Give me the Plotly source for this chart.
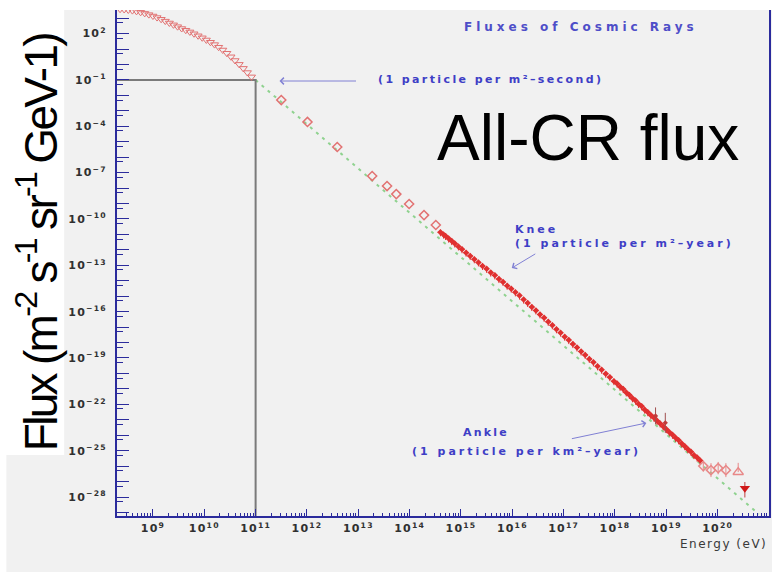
import plotly.graph_objects as go

# ---------------- data (log10 of energy in eV, log10 of flux) ----------------
# low-energy direct measurements (open triangles)
tri_logE = [8.36, 8.44, 8.52, 8.60, 8.68, 8.76, 8.84, 8.92, 9.00, 9.08, 9.16,
            9.24, 9.32, 9.40, 9.48, 9.56, 9.64, 9.72, 9.80, 9.88, 9.96, 10.04,
            10.12, 10.20, 10.28, 10.36, 10.44, 10.52, 10.60, 10.68, 10.76, 10.84, 10.92]
tri_logF = [3.58, 3.56, 3.53, 3.49, 3.44, 3.38, 3.31, 3.23, 3.14, 3.04, 2.93,
            2.81, 2.69, 2.57, 2.45, 2.33, 2.22, 2.11, 1.99, 1.86, 1.73, 1.59,
            1.44, 1.29, 1.12, 0.94, 0.73, 0.50, 0.26, 0.01, -0.25, -0.52, -0.80]

# balloon / satellite points (open diamonds)
dia_logE = [11.50, 12.01, 12.59, 13.27, 13.56, 13.74, 13.99, 14.28, 14.51]
dia_logF = [-2.30, -3.72, -5.34, -7.22, -7.87, -8.39, -9.03, -9.75, -10.39]

# air-shower measurements (small filled markers)
air_logE = [14.60, 14.66, 14.70, 14.76, 14.82, 14.88, 14.95, 15.02, 15.10, 15.18,
            15.26, 15.34, 15.42, 15.50, 15.58, 15.66, 15.74, 15.82, 15.90, 15.98,
            16.06, 16.14, 16.22, 16.30, 16.38, 16.46, 16.54, 16.62, 16.70, 16.78,
            16.86, 16.94, 17.02, 17.10, 17.18, 17.26, 17.34, 17.42, 17.50, 17.58,
            17.66, 17.74, 17.82, 17.90, 17.98, 18.04, 18.10, 18.16, 18.22, 18.28,
            18.34, 18.40, 18.46, 18.52, 18.58, 18.64, 18.70, 18.76, 18.82, 18.88,
            18.94, 19.00, 19.06, 19.12, 19.18, 19.24, 19.30, 19.36, 19.42, 19.48,
            19.54, 19.60, 19.66]
air_logF = [-10.86, -11.01, -11.10, -11.27, -11.43, -11.59, -11.78, -11.96, -12.18, -12.39,
            -12.61, -12.81, -13.04, -13.23, -13.47, -13.65, -13.89, -14.08, -14.32, -14.51,
            -14.75, -14.96, -15.22, -15.44, -15.70, -15.92, -16.18, -16.40, -16.66, -16.88,
            -17.14, -17.36, -17.62, -17.84, -18.10, -18.32, -18.58, -18.80, -19.06, -19.28,
            -19.54, -19.76, -20.02, -20.24, -20.50, -20.65, -20.87, -21.01, -21.23, -21.39,
            -21.61, -21.76, -21.98, -22.13, -22.35, -22.51, -22.71, -22.87, -23.07, -23.24,
            -23.43, -23.61, -23.81, -23.97, -24.17, -24.33, -24.53, -24.71, -24.91, -25.07,
            -25.29, -25.45, -25.64]

# a few points with large uncertainties near 10^19 eV
wide_logE = [18.79, 18.98]
wide_logF = [-22.75, -23.20]
wide_err = [0.55, 0.65]

# highest-energy events (open diamonds, open triangle, filled triangle)
uhe_logE = [19.72, 19.87, 20.01, 20.16]
uhe_logF = [-26.00, -26.26, -26.13, -26.26]
uhe_err = [0.35, 0.45, 0.40, 0.45]
up_logE = [20.40]
up_logF = [-26.39]
dn_logE = [20.53]
dn_logF = [-27.43]

# E^-2.87 reference power law
fit_logE = [11.0, 20.8]
fit_logF = [-1.0, -29.1]

# "1 particle per m^2-second" guide
guide_logE = [8.0, 11.0, 11.0]
guide_logF = [-1.0, -1.0, -31.0]

x_tick_exp = list(range(9, 22))
y_label_exp = list(range(2, -29, -3))
y_decades = list(range(3, -30, -1))


def lin(v):
    return [10.0 ** a for a in v]


def err_up(logf, dec):
    return [10.0 ** (f + e) - 10.0 ** f for f, e in zip(logf, dec)]


def err_dn(logf, dec):
    return [10.0 ** f - 10.0 ** (f - e) for f, e in zip(logf, dec)]


# ---------------- page geometry ----------------
W, H = 777, 572
L, R, T, B = 117, 771, 10, 516


def px(x):
    return (x - L) / (R - L)


def py(y):
    return (B - y) / (B - T)


def sup(e):
    s = str(e).replace("-", "\u2212")
    return f'<span style="letter-spacing:1.2px">10<sup>{s}</sup></span>'


RED = "#e03030"
PINK = "#e27272"
AXIS = "#2b2b9c"
BLUE = "#3e3ec6"

fig = go.Figure()

fig.add_trace(go.Scatter(x=lin(fit_logE), y=lin(fit_logF), mode="lines",
                         line=dict(color="#8fd28f", width=2, dash="3px,5px"),
                         hoverinfo="skip"))
fig.add_trace(go.Scatter(x=lin(guide_logE), y=lin(guide_logF), mode="lines",
                         line=dict(color="#7a7a7a", width=2), hoverinfo="skip"))
fig.add_trace(go.Scatter(x=lin(tri_logE), y=lin(tri_logF), mode="markers",
                         marker=dict(symbol="triangle-down-open", size=7,
                                     color=PINK, line=dict(width=1))))
fig.add_trace(go.Scatter(x=lin(dia_logE), y=lin(dia_logF), mode="markers",
                         marker=dict(symbol="diamond-open", size=7,
                                     color=PINK, line=dict(width=1.5))))
fig.add_trace(go.Scatter(x=lin(air_logE), y=lin(air_logF), mode="markers",
                         marker=dict(symbol="diamond", size=5, color=RED),
                         error_y=dict(type="percent", value=45, color=RED,
                                      thickness=1, width=0),
                         error_x=dict(type="percent", value=12, color=RED,
                                      thickness=1, width=0)))
fig.add_trace(go.Scatter(
    x=lin(wide_logE), y=lin(wide_logF), mode="markers",
    marker=dict(symbol="diamond", size=4, color="#c03a3a"),
    error_y=dict(type="data", array=err_up(wide_logF, wide_err),
                 arrayminus=err_dn(wide_logF, wide_err),
                 color="#a05050", thickness=1, width=0)))
fig.add_trace(go.Scatter(
    x=lin(uhe_logE), y=lin(uhe_logF), mode="markers",
    marker=dict(symbol="diamond-open", size=7, color="#e88888", line=dict(width=1.5)),
    error_y=dict(type="data", array=err_up(uhe_logF, uhe_err),
                 arrayminus=err_dn(uhe_logF, uhe_err),
                 color="#e88888", thickness=1, width=0)))
fig.add_trace(go.Scatter(
    x=lin(up_logE), y=lin(up_logF), mode="markers",
    marker=dict(symbol="triangle-up-open", size=9, color="#e88888", line=dict(width=1.5)),
    error_y=dict(type="data", array=err_up(up_logF, [0.6]), arrayminus=[0],
                 color="#e88888", thickness=1, width=0)))
fig.add_trace(go.Scatter(
    x=lin(dn_logE), y=lin(dn_logF), mode="markers",
    marker=dict(symbol="triangle-down", size=9, color="#d01818"),
    error_y=dict(type="data", array=err_up(dn_logF, [0.4]),
                 arrayminus=err_dn(dn_logF, [0.6]),
                 color="#c04040", thickness=1, width=0)))

# background panels
shapes = [
    dict(type="rect", xref="paper", yref="paper", layer="below",
         x0=px(6), x1=px(774), y0=py(572), y1=py(10),
         fillcolor="#f1f1f1", line=dict(width=0)),
    dict(type="rect", xref="paper", yref="paper", layer="below",
         x0=px(0), x1=px(64), y0=py(455), y1=py(0),
         fillcolor="#ffffff", line=dict(width=0)),
]


def spaced(text, sp):
    return f'<span style="letter-spacing:{sp}px">{text}</span>'


ann = []
small = dict(family="DejaVu Sans", size=11, color=BLUE, weight="bold")
ann.append(dict(text=spaced("Fluxes of Cosmic Rays", 4.0), x=px(463), y=py(27),
                xanchor="left", yanchor="middle",
                font=dict(family="DejaVu Sans", size=12, color="#4e4ec8", weight="bold")))
ann.append(dict(text=spaced("(1 particle per m²\u2013second)", 2.4), x=px(377), y=py(80),
                xanchor="left", yanchor="middle", font=small))
ann.append(dict(text=spaced("Knee", 3.0), x=px(514), y=py(229),
                xanchor="left", yanchor="middle", font=small))
ann.append(dict(text=spaced("(1 particle per m²\u2013year)", 3.0), x=px(514), y=py(243),
                xanchor="left", yanchor="middle", font=small))
ann.append(dict(text=spaced("Ankle", 2.2), x=px(462), y=py(432),
                xanchor="left", yanchor="middle", font=small))
ann.append(dict(text=spaced("(1 particle per km²\u2013year)", 3.0), x=px(411), y=py(451),
                xanchor="left", yanchor="middle", font=small))
ann.append(dict(text=spaced("Energy (eV)", 1.5), x=px(771), y=py(544),
                xanchor="right", yanchor="middle",
                font=dict(family="DejaVu Sans", size=12, color="#3a3a3a")))

# arrows
for tip, tail in [((280, 81), (358, 81)), ((513, 268), (538, 253)), ((648, 423), (572, 439))]:
    ann.append(dict(text="", x=px(tip[0]), y=py(tip[1]),
                    ax=tail[0] - tip[0], ay=tail[1] - tip[1], showarrow=True,
                    arrowhead=4, arrowsize=1.3, arrowwidth=1, arrowcolor="#8080d4"))

ann.append(dict(text="All-CR flux", x=px(436), y=py(138), xanchor="left", yanchor="middle",
                font=dict(family="Liberation Sans", size=64, color="#000000")))
ann.append(dict(text=spaced("Flux (m<sup>-2</sup> s<sup>-1</sup> sr<sup>-1</sup> GeV-1)", -2.7),
                x=px(37), y=py(242), textangle=-90, xanchor="center", yanchor="middle",
                font=dict(family="Liberation Sans", size=46, color="#000000")))

for a in ann:
    a.setdefault("xref", "paper")
    a.setdefault("yref", "paper")
    a.setdefault("showarrow", False)

x_minor = [k * 10.0 ** d for d in range(8, 21) for k in range(2, 10)]
y_minor = [5 * 10.0 ** d for d in range(-30, 4)]
tick_font = dict(family="DejaVu Sans", size=11, color="#303030", weight="bold")

fig.update_layout(
    width=W, height=H,
    margin=dict(l=L, r=W - R, t=T, b=H - B),
    paper_bgcolor="#ffffff", plot_bgcolor="#f1f1f1",
    showlegend=False,
    shapes=shapes, annotations=ann,
    xaxis=dict(type="log", range=[8.3, 21.0], showgrid=False, zeroline=False,
               showline=True, linecolor=AXIS, linewidth=2, mirror=False,
               ticks="inside", ticklen=7, tickwidth=1, tickcolor=AXIS,
               tickmode="array", tickvals=lin(x_tick_exp),
               ticktext=[sup(e) for e in x_tick_exp],
               ticklabelstandoff=1, tickfont=tick_font,
               minor=dict(tickmode="array", tickvals=x_minor, ticks="inside",
                          ticklen=3, tickcolor=AXIS, tickwidth=1, showgrid=False)),
    yaxis=dict(type="log", range=[-29.23, 3.53], showgrid=False, zeroline=False,
               showline=True, linecolor=AXIS, linewidth=2, mirror=True,
               ticks="inside", ticklen=12, tickwidth=1, tickcolor=AXIS,
               tickmode="array", tickvals=lin(y_decades),
               ticktext=[sup(e) if e in y_label_exp else "" for e in y_decades],
               ticklabelstandoff=6, tickfont=tick_font,
               minor=dict(tickmode="array", tickvals=y_minor, ticks="inside",
                          ticklen=6, tickcolor=AXIS, tickwidth=1, showgrid=False)),
)

fig.write_html("out.html")
